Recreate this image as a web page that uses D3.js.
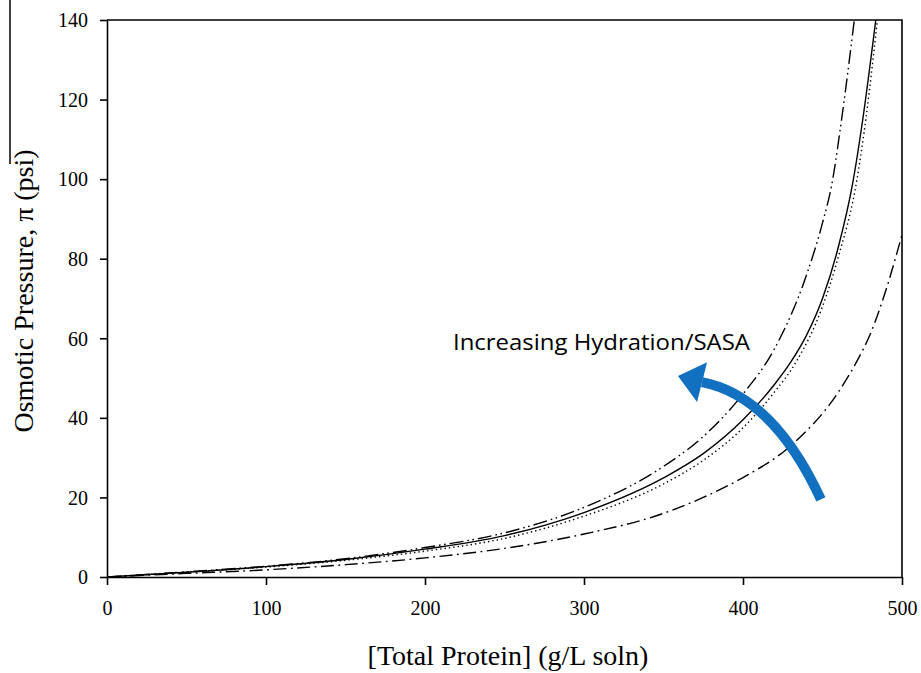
<!DOCTYPE html>
<html>
<head>
<meta charset="utf-8">
<script src="https://cdn.jsdelivr.net/npm/d3@7"></script>
<style>
  html, body { margin: 0; padding: 0; background: #fff; }
  svg { display: block; }
</style>
</head>
<body>
<div id="app"></div>
<script>
const width = 921;
const height = 673;

// tick labels
const xTicks = [0, 100, 200, 300, 400, 500];
const yTicks = [0, 20, 40, 60, 80, 100, 120, 140];

// series: protein (g/L) vs osmotic pressure (psi)
const dashDotDotX = [0, 50, 100, 150, 200, 250, 300, 350, 375, 400, 420, 440, 450, 456, 462, 470];
const dashDotDotY = [0, 1.3, 2.7, 4.6, 7.4, 11.1, 17.5, 27.8, 35.3, 46, 57.5, 76, 89, 99, 115, 140];

const solidX = [0, 50, 100, 150, 200, 250, 300, 350, 375, 400, 420, 430, 440, 450, 460, 469, 475.5, 483.5];
const solidY = [0, 1.2, 2.6, 4.4, 7.0, 10.4, 16.2, 24.9, 31, 39.5, 48.5, 54, 60.8, 70, 83, 99, 115.5, 140];

const dottedX = [0, 50, 100, 150, 200, 250, 300, 350, 375, 400, 420, 433, 450, 460, 471.7, 477.4, 484.5];
const dottedY = [0, 1.2, 2.5, 4.2, 6.5, 9.7, 15.3, 23.4, 29.3, 37.5, 46.6, 53.8, 68, 80.5, 100, 115.5, 140];

const dashDotX = [0, 50, 100, 150, 200, 250, 300, 350, 375, 400, 430, 460, 472, 480, 489, 500];
const dashDotY = [0, 0.9, 1.8, 3.1, 4.8, 7.2, 10.8, 16, 20, 25, 33, 46.5, 54.5, 61, 71, 86];

const series = [
  { xs: dashDotDotX, ys: dashDotDotY, dash: '14 4 1.6 3.5 1.6 4' },
  { xs: solidX, ys: solidY, dash: null },
  { xs: dottedX, ys: dottedY, dash: '1.4 3' },
  { xs: dashDotX, ys: dashDotY, dash: '13 4.5 1.8 4.5' }
];

const margin = { top: 20, right: 19, bottom: 96, left: 107 };

const x = d3.scaleLinear().domain([0, 500]).range([margin.left, width - margin.right]);
const y = d3.scaleLinear().domain([0, 140]).range([height - margin.bottom, margin.top]);

const svg = d3.select('#app').append('svg')
  .attr('width', width)
  .attr('height', height);

svg.append('clipPath').attr('id', 'plot')
  .append('rect')
  .attr('x', x(0)).attr('y', y(140))
  .attr('width', x(500) - x(0)).attr('height', y(0) - y(140));

// stray scan line at the far left
svg.append('line')
  .attr('x1', 10).attr('x2', 10).attr('y1', 0).attr('y2', 164)
  .attr('stroke', '#000').attr('stroke-width', 1.5);

const line = d3.line()
  .x(d => x(d[0]))
  .y(d => y(d[1]))
  .curve(d3.curveMonotoneX);

svg.append('g')
  .attr('clip-path', 'url(#plot)')
  .selectAll('path')
  .data(series)
  .enter().append('path')
  .attr('d', s => line(s.xs.map((v, i) => [v, s.ys[i]])))
  .attr('fill', 'none')
  .attr('stroke', '#000')
  .attr('stroke-width', 1.4)
  .attr('stroke-dasharray', s => s.dash);

// frame (top and right)
svg.append('path')
  .attr('d', `M${x(0)},${y(140)}H${x(500)}V${y(0)}`)
  .attr('fill', 'none')
  .attr('stroke', '#000')
  .attr('stroke-width', 1.6);

const xAxis = svg.append('g')
  .attr('transform', `translate(0,${y(0)})`)
  .call(d3.axisBottom(x).tickValues(xTicks).tickSize(8).tickSizeOuter(0).tickPadding(16));

const yAxis = svg.append('g')
  .attr('transform', `translate(${x(0)},0)`)
  .call(d3.axisLeft(y).tickValues(yTicks).tickSize(7).tickSizeOuter(0).tickPadding(12));

[xAxis, yAxis].forEach(g => {
  g.select('.domain').attr('stroke-width', 1.6);
  g.selectAll('.tick line').attr('stroke-width', 1.6);
  g.selectAll('.tick text')
    .attr('font-family', '"Liberation Serif", "Times New Roman", serif')
    .attr('font-size', 20)
    .attr('fill', '#000');
});
yAxis.selectAll('.tick text').attr('dy', '0.34em');

svg.append('text')
  .attr('x', 508)
  .attr('y', 665)
  .attr('text-anchor', 'middle')
  .attr('font-family', '"Liberation Serif", "Times New Roman", serif')
  .attr('font-size', 28)
  .text('[Total Protein] (g/L soln)');

svg.append('text')
  .attr('transform', 'translate(33,291) rotate(-90)')
  .attr('text-anchor', 'middle')
  .attr('font-family', '"Liberation Serif", "Times New Roman", serif')
  .attr('font-size', 28)
  .text('Osmotic Pressure, π (psi)');

// annotation arrow
const blue = '#1170c0';
const tail = [449, 19.5];
const ctrl = [419, 45.5];
const end = [374.2, 49.0];
svg.append('path')
  .attr('d', `M${x(tail[0])},${y(tail[1])}Q${x(ctrl[0])},${y(ctrl[1])} ${x(end[0])},${y(end[1])}`)
  .attr('fill', 'none')
  .attr('stroke', blue)
  .attr('stroke-width', 10);

const head = [[359.1, 50.5], [377.4, 54.0], [371.1, 44.0]];
svg.append('path')
  .attr('d', 'M' + head.map(p => `${x(p[0])},${y(p[1])}`).join('L') + 'Z')
  .attr('fill', blue);

svg.append('text')
  .attr('x', x(217.6))
  .attr('y', y(57))
  .attr('font-family', '"Open Sans", "Noto Sans", sans-serif')
  .attr('font-size', 21)
  .attr('textLength', 297)
  .attr('lengthAdjust', 'spacingAndGlyphs')
  .text('Increasing Hydration/SASA');
</script>
</body>
</html>
